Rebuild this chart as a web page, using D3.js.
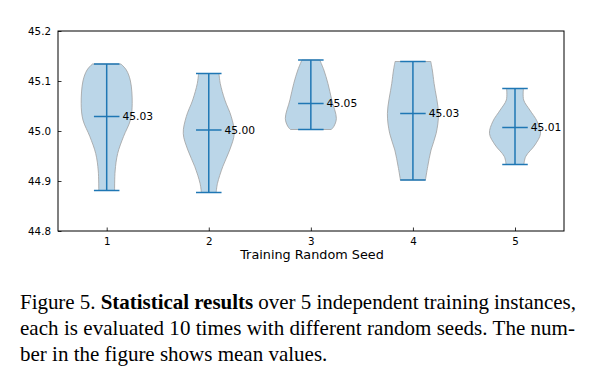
<!DOCTYPE html>
<html>
<head>
<meta charset="utf-8">
<script src="https://cdn.jsdelivr.net/npm/d3@7"></script>
<style>
body { margin: 0; background: #fff; }
svg text { font-family: "DejaVu Sans", sans-serif; }
svg .caption text { font-family: "Liberation Serif", "Times New Roman", serif; }
</style>
</head>
<body>
<div id="chart"></div>
<script>
// data
var seeds = [1, 2, 3, 4, 5];
var mins = [44.881, 44.877, 45.003, 44.902, 44.933];
var maxs = [45.134, 45.115, 45.142, 45.139, 45.085];
var means = [45.029, 45.002, 45.055, 45.035, 45.007];
var meanLabels = ["45.03", "45.00", "45.05", "45.03", "45.01"];
var yTicks = [44.8, 44.9, 45.0, 45.1, 45.2];

// relative density profiles [value, density / max density]
var profile1 = [[44.881, 0.31], [44.92, 0.33], [44.955, 0.43], [44.989, 0.66], [45.022, 0.93], [45.055, 1.0], [45.1, 0.93], [45.122, 0.77], [45.134, 0.56]];
var profile2 = [[44.877, 0.29], [44.895, 0.34], [44.929, 0.55], [44.962, 0.82], [44.995, 1.0], [45.029, 0.88], [45.062, 0.63], [45.095, 0.45], [45.115, 0.4]];
var profile3 = [[45.003, 0.8], [45.009, 0.9], [45.025, 1.0], [45.062, 0.82], [45.095, 0.67], [45.122, 0.51], [45.142, 0.35]];
var profile4 = [[44.902, 0.49], [44.929, 0.58], [44.962, 0.71], [44.995, 0.91], [45.035, 1.0], [45.095, 0.83], [45.122, 0.76], [45.139, 0.7]];
var profile5 = [[44.933, 0.35], [44.949, 0.42], [44.972, 0.78], [44.995, 1.0], [45.019, 0.87], [45.042, 0.58], [45.062, 0.34], [45.085, 0.33]];
var profiles = [profile1, profile2, profile3, profile4, profile5];

var svgWidth = 596;
var svgHeight = 374;
var margin = {top: 31, left: 58, right: 32, bottom: 143};
var width = svgWidth - margin.left - margin.right;
var height = svgHeight - margin.top - margin.bottom;

var violinWidth = 0.5;
var blue = "#1f77b4";

var svg = d3.select("#chart")
    .append("svg")
    .attr("width", svgWidth)
    .attr("height", svgHeight);

var chartGroup = svg.append("g")
    .attr("transform", `translate(${margin.left}, ${margin.top})`);

var xScale = d3.scaleLinear()
    .domain([0.523, 5.48])
    .range([0, width]);

var yScale = d3.scaleLinear()
    .domain([44.8, 45.2])
    .range([height, 0]);

// violin bodies
var area = d3.area()
    .curve(d3.curveCatmullRom.alpha(0.5));

seeds.forEach(function(s, i) {
    area.y(d => yScale(d[0]))
        .x0(d => xScale(s - violinWidth / 2 * d[1]))
        .x1(d => xScale(s + violinWidth / 2 * d[1]));
    chartGroup.append("path")
        .datum(profiles[i])
        .attr("d", area)
        .attr("fill", blue)
        .attr("fill-opacity", 0.3)
        .attr("stroke", "#a0a0a0")
        .attr("stroke-opacity", 0.8)
        .attr("stroke-width", 1);
});

// whiskers, caps and means
seeds.forEach(function(s, i) {
    var cx = xScale(s);
    var x0 = xScale(s - violinWidth / 4);
    var x1 = xScale(s + violinWidth / 4);
    var g = chartGroup.append("g")
        .attr("stroke", blue)
        .attr("stroke-width", 1.5);
    g.append("line")
        .attr("x1", cx).attr("x2", cx)
        .attr("y1", yScale(mins[i])).attr("y2", yScale(maxs[i]));
    [mins[i], maxs[i], means[i]].forEach(function(v) {
        g.append("line")
            .attr("x1", x0).attr("x2", x1)
            .attr("y1", yScale(v)).attr("y2", yScale(v));
    });
    chartGroup.append("text")
        .attr("x", x1 + 3)
        .attr("y", yScale(means[i]))
        .attr("dy", "0.36em")
        .attr("font-size", "10.7px")
        .attr("fill", "#000")
        .text(meanLabels[i]);
});

// axes, ticks pointing inward
var bottomAxis = d3.axisBottom(xScale)
    .tickValues(seeds)
    .tickFormat(d3.format("d"))
    .tickSizeInner(-3.5)
    .tickSizeOuter(0)
    .tickPadding(7);
var leftAxis = d3.axisLeft(yScale)
    .tickValues(yTicks)
    .tickFormat(d3.format(".1f"))
    .tickSizeInner(-3.5)
    .tickSizeOuter(0)
    .tickPadding(7);

var xAxis = chartGroup.append("g")
    .attr("transform", `translate(0, ${height})`)
    .call(bottomAxis);
var yAxis = chartGroup.append("g")
    .call(leftAxis);

[xAxis, yAxis].forEach(function(ax) {
    ax.select(".domain").remove();
    ax.selectAll("line").attr("stroke", "#000").attr("stroke-width", 0.8);
    ax.selectAll("text")
        .attr("font-family", "DejaVu Sans, sans-serif")
        .attr("font-size", "10.3px")
        .attr("fill", "#000");
});

// frame
chartGroup.append("rect")
    .attr("x", 0).attr("y", 0)
    .attr("width", width).attr("height", height)
    .attr("fill", "none")
    .attr("stroke", "#000")
    .attr("stroke-width", 1);

chartGroup.append("text")
    .attr("x", width / 2 + 1)
    .attr("y", height + 27.5)
    .attr("text-anchor", "middle")
    .attr("font-size", "12.8px")
    .attr("fill", "#000")
    .text("Training Random Seed");

// caption
var caption = svg.append("g").attr("class", "caption")
    .attr("font-size", "21px")
    .attr("fill", "#000");

var line1 = caption.append("text")
    .attr("x", 20).attr("y", 309)
    .attr("textLength", 556)
    .attr("lengthAdjust", "spacing");
line1.append("tspan").text("Figure 5. ");
line1.append("tspan").attr("font-weight", "bold").text("Statistical results");
line1.append("tspan").text(" over 5 independent training instances,");

caption.append("text")
    .attr("x", 20).attr("y", 335)
    .attr("textLength", 555)
    .attr("lengthAdjust", "spacing")
    .text("each is evaluated 10 times with different random seeds. The num-");

caption.append("text")
    .attr("x", 20).attr("y", 361)
    .text("ber in the figure shows mean values.");
</script>
</body>
</html>
